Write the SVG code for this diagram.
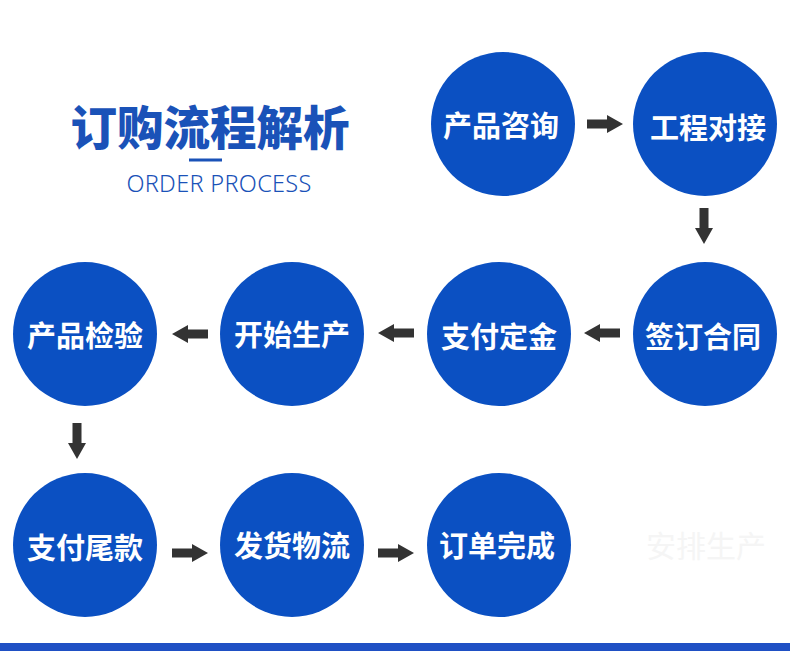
<svg xmlns="http://www.w3.org/2000/svg" width="790" height="651" viewBox="0 0 790 651">
<defs>
<style>
.c{fill:#0b50c2}
.t{fill:#fff;font-family:"Noto Sans CJK SC","Noto Sans",sans-serif;font-weight:700;font-size:29px;text-anchor:middle;dominant-baseline:central}
.a{fill:#333}
</style>
<path id="ar" d="M-18,-4.5 H2 V-9 L18,0 L2,9 V4.5 H-18 Z"/>
</defs>
<rect width="790" height="651" fill="#fff"/>
<g id="title">
<text x="210" y="145" font-family="'Noto Sans CJK SC',sans-serif" font-weight="900" font-size="46.5" fill="#1a52b8" text-anchor="middle">订购流程解析</text>
<rect x="189" y="158.5" width="33" height="3" fill="#1a52b8"/>
<text x="219" y="192" font-family="'Noto Sans',sans-serif" font-weight="300" font-size="23.5" letter-spacing="0.3" fill="#1a52b8" text-anchor="middle">ORDER PROCESS</text>
</g>
<text x="706" y="544" font-family="'Noto Sans CJK SC',sans-serif" font-size="30" fill="#f5f5f5" text-anchor="middle" dominant-baseline="central">安排生产</text>
<g id="n1"><circle class="c" cx="503" cy="124" r="72"/><text class="t" x="501" y="124">产品咨询</text></g>
<g id="n2"><circle class="c" cx="705" cy="124" r="72"/><text class="t" x="708" y="126">工程对接</text></g>
<g id="n3"><circle class="c" cx="705" cy="334" r="72"/><text class="t" x="703" y="335">签订合同</text></g>
<g id="n4"><circle class="c" cx="499" cy="334" r="72"/><text class="t" x="499" y="335">支付定金</text></g>
<g id="n5"><circle class="c" cx="292" cy="334" r="72"/><text class="t" x="292" y="333">开始生产</text></g>
<g id="n6"><circle class="c" cx="85" cy="334" r="72"/><text class="t" x="85" y="334">产品检验</text></g>
<g id="n7"><circle class="c" cx="85" cy="545" r="72"/><text class="t" x="85" y="546">支付尾款</text></g>
<g id="n8"><circle class="c" cx="292" cy="545" r="72"/><text class="t" x="292" y="544">发货物流</text></g>
<g id="n9"><circle class="c" cx="499" cy="545" r="72"/><text class="t" x="497" y="544">订单完成</text></g>
<g id="connectors" class="a">
<use href="#ar" transform="translate(605,124)"/>
<use href="#ar" transform="translate(704,226) rotate(90)"/>
<use href="#ar" transform="translate(602,333) rotate(180)"/>
<use href="#ar" transform="translate(396,333) rotate(180)"/>
<use href="#ar" transform="translate(190,334) rotate(180)"/>
<use href="#ar" transform="translate(77,441) rotate(90)"/>
<use href="#ar" transform="translate(190,553)"/>
<use href="#ar" transform="translate(396,553)"/>
</g>
<rect x="0" y="643" width="790" height="8" fill="#1f50c4"/>
</svg>
